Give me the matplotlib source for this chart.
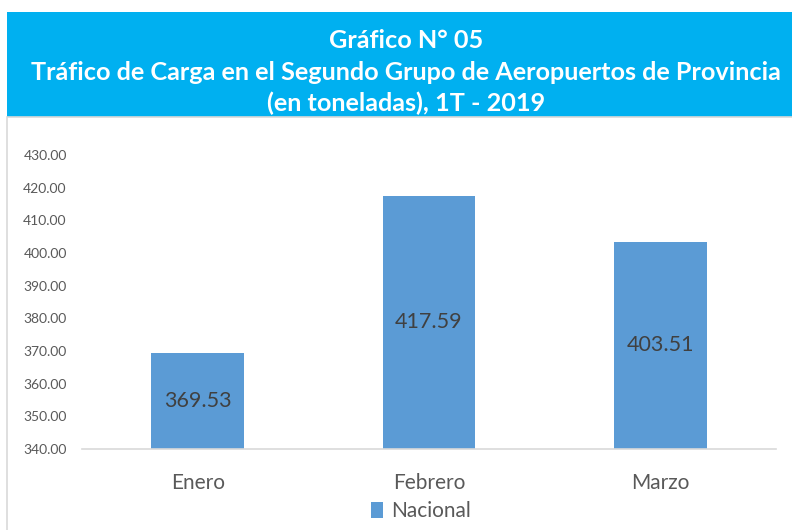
import matplotlib
matplotlib.use("Agg")
import matplotlib.pyplot as plt
from matplotlib.patches import Rectangle

categories = ["Enero", "Febrero", "Marzo"]
values = [369.53, 417.59, 403.51]
yticks = [340, 350, 360, 370, 380, 390, 400, 410, 420, 430]
series_name = "Nacional"
title_lines = ["Gráfico N° 05",
               "Tráfico de Carga en el Segundo Grupo de Aeropuertos de Provincia",
               "(en toneladas), 1T - 2019"]

W, H = 792, 530
fig = plt.figure(figsize=(W / 100, H / 100), dpi=100)
plt.rcParams['font.family'] = ['Lato', 'DejaVu Sans']

# title banner
banner = Rectangle((7 / W, 1 - 117 / H), 1 - 7 / W, (117 - 12) / H,
                   transform=fig.transFigure, facecolor="#00B0F0", edgecolor="none")
fig.patches.append(banner)
# chart area border
border = Rectangle((7 / W, -0.01), 1, 1 - 117 / H + 0.01,
                   transform=fig.transFigure, facecolor="none", edgecolor="#D9D9D9", lw=1.2)
fig.patches.append(border)

ys = [40, 72, 103]
for t, y in zip(title_lines, ys):
    fig.text(406 / W, 1 - y / H, t, ha="center", va="center", color="white",
             fontsize=18.2, fontweight="bold")

ax = fig.add_axes([82 / W, 1 - 449 / H, (776 - 82) / W, (449 - 155) / H])
x = list(range(len(categories)))
bars = ax.bar(x, values, width=0.4, color="#5B9BD5", label=series_name, zorder=2)
ax.set_xlim(-0.5, 2.5)
ax.set_ylim(340, 430)
ax.set_yticks(yticks)
ax.set_yticklabels([f"{v:.2f}" for v in yticks])
ax.set_xticks(x)
ax.set_xticklabels(categories)
for s in ["top", "right", "left"]:
    ax.spines[s].set_visible(False)
ax.spines["bottom"].set_color("#D9D9D9")
ax.spines["bottom"].set_linewidth(1.2)
ax.tick_params(axis="y", length=0, labelsize=10, labelcolor="#595959", pad=11)
ax.tick_params(axis="x", length=0, labelsize=15, labelcolor="#595959", pad=17)

for b, v in zip(bars, values):
    ax.text(b.get_x() + b.get_width() / 2, (340 + v) / 2, f"{v:.2f}",
            ha="center", va="center", fontsize=15.5, color="#404040")

leg = fig.legend(handles=[bars], labels=[series_name], loc="center",
                 bbox_to_anchor=(421 / W, 1 - 511 / H), frameon=False,
                 fontsize=15, handlelength=0.6, handleheight=0.8, handletextpad=0.4,
                 labelcolor="#595959")

fig.savefig("out.png", dpi=100)
